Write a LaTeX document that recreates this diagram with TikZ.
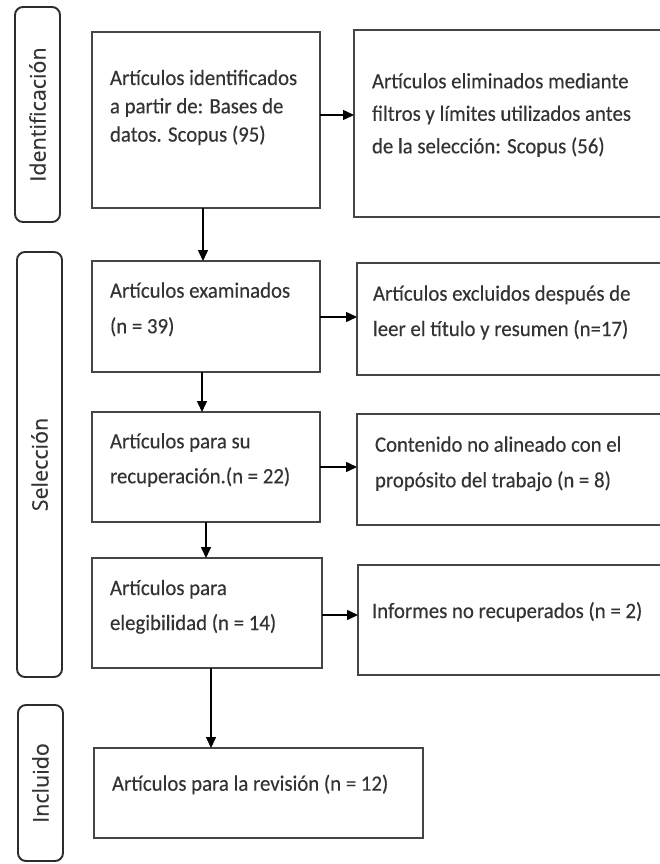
\documentclass[tikz,border=0pt]{standalone}
\usepackage{fontspec}
\setmainfont[FakeStretch=0.95,FakeBold=0.25]{Carlito}
\newfontfamily\labfont[FakeBold=0.2]{Open Sans}
\usetikzlibrary{arrows.meta}
\definecolor{boxgray}{HTML}{454545}
\definecolor{sidegray}{HTML}{2C2C2C}
\definecolor{textgray}{HTML}{333333}
\begin{document}
\begin{tikzpicture}[x=1pt,y=-1pt,
  box/.style={draw=boxgray, line width=1.9pt, rectangle, inner sep=0pt, outer sep=0pt},
  side/.style={draw=sidegray, line width=1.9pt, rectangle, rounded corners=8pt, inner sep=0pt, outer sep=0pt,
     text=textgray, font=\labfont\fontsize{21.5}{22}\selectfont},
  txt/.style={inner sep=0pt, outer sep=0pt, anchor=base west, text=textgray},
  arr/.style={draw=black, line width=1.5pt, -{Triangle[length=11pt,width=10pt]}}]
\useasboundingbox (0,0) rectangle (659,864);
\fill[white] (0,0) rectangle (659,864);

% side labels
\node[side, rotate=90, minimum width=215pt, minimum height=45pt] (L1) at (37.5,114.5) {Identificación};
\node[side, rotate=90, minimum width=425pt, minimum height=45pt] (L2) at (39.5,464.5) {Selección};
\node[side, rotate=90, minimum width=156pt, minimum height=45pt] (L3) at (40.5,783) {Incluido};

% boxes
\node[box, minimum width=228pt, minimum height=176pt] (b1) at (206,120) {};
\node[box, minimum width=308pt, minimum height=187pt] (b2) at (508,123.5) {};
\node[box, minimum width=228pt, minimum height=111pt] (b3) at (206,316.5) {};
\node[box, minimum width=305pt, minimum height=112pt] (b4) at (509.5,319) {};
\node[box, minimum width=228pt, minimum height=110pt] (b5) at (206,467) {};
\node[box, minimum width=305pt, minimum height=111pt] (b6) at (509.5,469.5) {};
\node[box, minimum width=230pt, minimum height=110pt] (b7) at (207,613) {};
\node[box, minimum width=304pt, minimum height=110pt] (b8) at (510,620) {};
\node[box, minimum width=329pt, minimum height=90pt] (b9) at (258.5,793) {};

% texts
\node[txt] (t1) at (110,85) {\parbox[t]{300pt}{\fontsize{21.9}{28.3}\selectfont Artículos identificados\\a partir de: Bases de\\datos. Scopus (95)}};
\node[txt] (t2) at (372,88.3) {\parbox[t]{300pt}{\fontsize{21.9}{32.5}\selectfont Artículos eliminados mediante\\filtros y límites utilizados antes\\de la selección: Scopus (56)}};
\node[txt] (t3) at (110,297.7) {\parbox[t]{300pt}{\fontsize{21.9}{35.6}\selectfont Artículos examinados\\(n = 39)}};
\node[txt] (t4) at (373,300.7) {\parbox[t]{300pt}{\fontsize{21.9}{35.3}\selectfont Artículos excluidos después de\\leer el título y resumen (n=17)}};
\node[txt] (t5) at (110,448.3) {\parbox[t]{300pt}{\fontsize{21.9}{35}\selectfont Artículos para su\\recuperación.(n = 22)}};
\node[txt] (t6) at (375,451.7) {\parbox[t]{300pt}{\fontsize{21.9}{35.6}\selectfont Contenido no alineado con el\\propósito del trabajo (n = 8)}};
\node[txt] (t7) at (110,595) {\parbox[t]{300pt}{\fontsize{21.9}{35}\selectfont Artículos para\\elegibilidad (n = 14)}};
\node[txt] (t8) at (372,618) {\fontsize{21.9}{25}\selectfont Informes no recuperados (n = 2)};
\node[txt] (t9) at (112,790.7) {\fontsize{21.9}{25}\selectfont Artículos para la revisión (n = 12)};

% connector guides
\coordinate (ax1) at (203,0);
\coordinate (ax2) at (202,0);
\coordinate (ax3) at (206,0);
\coordinate (ax4) at (211,0);
\coordinate (ay1) at (0,115);
\coordinate (ay2) at (0,317);
\coordinate (ay3) at (0,467);
\coordinate (ay4) at (0,615);

% connectors
\draw[arr] (b1.east |- ay1) -- (b2.west |- ay1);
\draw[arr] (b3.east |- ay2) -- (b4.west |- ay2);
\draw[arr] (b5.east |- ay3) -- (b6.west |- ay3);
\draw[arr] (b7.east |- ay4) -- (b8.west |- ay4);
\draw[arr] (b1.south -| ax1) -- (b3.north -| ax1);
\draw[arr] (b3.south -| ax2) -- (b5.north -| ax2);
\draw[arr] (b5.south -| ax3) -- (b7.north -| ax3);
\draw[arr] (b7.south -| ax4) -- (b9.north -| ax4);
\end{tikzpicture}
\end{document}
